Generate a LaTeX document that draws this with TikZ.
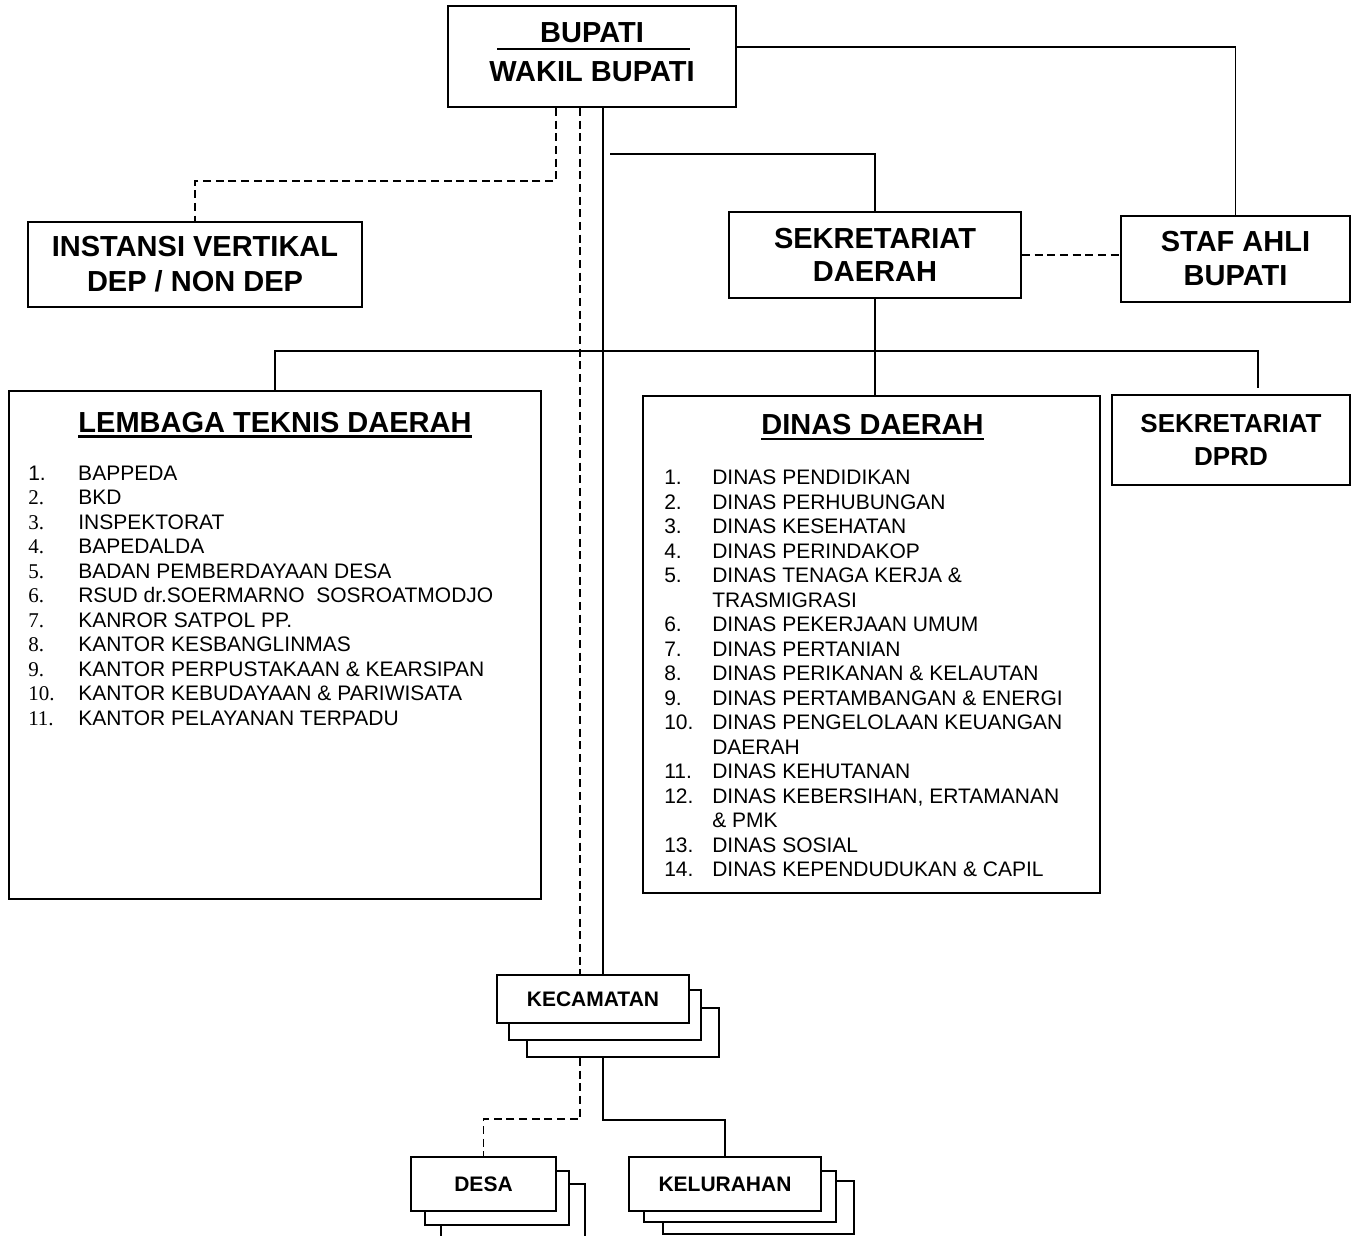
\documentclass[tikz,border=0pt]{standalone}
\usepackage{fontspec}
\setmainfont{Liberation Sans}
\newfontfamily\serifnum{Liberation Serif}
\usetikzlibrary{calc}
\newcommand\lmitem[2]{\makebox[37.5pt][l]{#1}#2}
\newcommand\dnitem[2]{\makebox[36pt][l]{#1}#2}
\begin{document}
\begin{tikzpicture}[x=0.75pt,y=-0.75pt,
  box/.style={draw, line width=1.4pt, fill=white, inner sep=0pt, align=center},
  sz/.style 2 args={minimum width=#1*0.75pt, minimum height=#2*0.75pt},
  bigfont/.style={font=\fontsize{21.75pt}{26.25pt}\selectfont\bfseries},
  midfont/.style={font=\fontsize{19.5pt}{24.75pt}\selectfont\bfseries},
  smallfont/.style={font=\fontsize{15.75pt}{18pt}\selectfont\bfseries},
  titletext/.style={inner sep=0pt, font=\fontsize{21.75pt}{26pt}\selectfont\bfseries},
  listtext/.style={inner sep=0pt, align=left, font=\fontsize{15.75pt}{18.375pt}\selectfont},
  conn/.style={line width=1.4pt},
  dashline/.style={line width=1.4pt, dash pattern=on 6pt off 3.5pt},
  uline/.style={line width=2.2pt}
]
\useasboundingbox (0,0) rectangle (1354,1236);
\clip (0,0) rectangle (1354,1236);
\fill[white] (0,0) rectangle (1354,1236);

% main boxes
\node[box, sz={288}{101}] (bup) at (592,56.5) {};
\node[inner sep=0pt, align=center, font=\fontsize{21.75pt}{29.25pt}\selectfont\bfseries] (bupt) at (592,52.5) {BUPATI\\WAKIL BUPATI};
\draw[line width=1.1pt] ($(bup.center)+(-95,-7.5)$) -- ($(bup.center)+(98,-7.5)$);

\node[box, sz={334}{85}, bigfont] (inst) at (195,264.5) {INSTANSI VERTIKAL\\DEP / NON DEP};
\node[box, sz={292}{86}, font=\fontsize{21.75pt}{24.75pt}\selectfont\bfseries] (sek) at (875,255) {SEKRETARIAT\\DAERAH};
\node[box, sz={229}{86}, font=\fontsize{21.75pt}{25.5pt}\selectfont\bfseries] (staf) at (1235.5,259) {STAF AHLI\\BUPATI};
\node[box, sz={238}{90}, midfont] (dprd) at (1231,440) {SEKRETARIAT\\DPRD};

\node[box, sz={532}{508}] (lemb) at (275,645) {};
\node[box, sz={457}{497}] (dinas) at (871.5,644.5) {};

% titles
\node[titletext, anchor=base] (lembt) at (275,432) {LEMBAGA TEKNIS DAERAH};
\draw[uline] ([yshift=-3.4pt]lembt.base west) -- ([yshift=-3.4pt]lembt.base east);
\node[titletext, anchor=base] (dinast) at (872.5,434) {DINAS DAERAH};
\draw[uline] ([yshift=-3.75pt]dinast.base west) -- ([yshift=-3.75pt]dinast.base east);

% lists
\node[listtext, anchor=north west] (lembl) at (28,465.5) {%
\lmitem{1.}{BAPPEDA}\\
\lmitem{\serifnum 2.}{BKD}\\
\lmitem{\serifnum 3.}{INSPEKTORAT}\\
\lmitem{\serifnum 4.}{BAPEDALDA}\\
\lmitem{\serifnum 5.}{BADAN PEMBERDAYAAN DESA}\\
\lmitem{\serifnum 6.}{RSUD dr.SOERMARNO\ \ SOSROATMODJO}\\
\lmitem{\serifnum 7.}{KANROR SATPOL PP.}\\
\lmitem{\serifnum 8.}{KANTOR KESBANGLINMAS}\\
\lmitem{\serifnum 9.}{KANTOR PERPUSTAKAAN \& KEARSIPAN}\\
\lmitem{\serifnum 10.}{KANTOR KEBUDAYAAN \& PARIWISATA}\\
\lmitem{\serifnum 11.}{KANTOR PELAYANAN TERPADU}};

\node[listtext, anchor=north west] (dinasl) at (664,470) {%
\dnitem{1.}{DINAS PENDIDIKAN}\\
\dnitem{2.}{DINAS PERHUBUNGAN}\\
\dnitem{3.}{DINAS KESEHATAN}\\
\dnitem{4.}{DINAS PERINDAKOP}\\
\dnitem{5.}{DINAS TENAGA KERJA \&}\\
\dnitem{}{TRASMIGRASI}\\
\dnitem{6.}{DINAS PEKERJAAN UMUM}\\
\dnitem{7.}{DINAS PERTANIAN}\\
\dnitem{8.}{DINAS PERIKANAN \& KELAUTAN}\\
\dnitem{9.}{DINAS PERTAMBANGAN \& ENERGI}\\
\dnitem{10.}{DINAS PENGELOLAAN KEUANGAN}\\
\dnitem{}{DAERAH}\\
\dnitem{11.}{DINAS KEHUTANAN}\\
\dnitem{12.}{DINAS KEBERSIHAN, ERTAMANAN}\\
\dnitem{}{\& PMK}\\
\dnitem{13.}{DINAS SOSIAL}\\
\dnitem{14.}{DINAS KEPENDUDUKAN \& CAPIL}};

% stacks
\node[box, sz={192}{49}] (kec3) at (623,1032.5) {};
\node[box, sz={192}{50}] (kec2) at (605,1015) {};
\node[box, sz={192}{48}, smallfont] (kec) at (593,999) {KECAMATAN};

\node[box, sz={144}{56}] (desa3) at (513,1212) {};
\node[box, sz={144}{54}] (desa2) at (497,1198) {};
\node[box, sz={145}{54}, smallfont] (desa) at (483.5,1184) {DESA};

\node[box, sz={191}{53}] (kel3) at (758.5,1207.5) {};
\node[box, sz={192}{51}] (kel2) at (740,1196.5) {};
\node[box, sz={192}{54}, smallfont] (kel) at (725,1184) {KELURAHAN};

% connectors
\draw[conn] ([xshift=8.25pt]bup.south) -- ([xshift=8.25pt]bup.south |- kec.north);
\draw[dashline] ([xshift=-9pt]bup.south) -- ([xshift=-9pt]bup.south |- kec.north);
\draw[dashline] ([xshift=-27pt]bup.south) -- ++(0,73) -| (inst.north);
\coordinate (sekbr) at (610,154);
\draw[conn] (sekbr) -| (sek.north);
\draw[conn] ([yshift=7.1pt]bup.east) -| (staf.north);
\draw[dashline] (sek.east) -- (sek.east -| staf.west);
\draw[conn] (sek.south) -- (sek.south |- dinas.north);
\coordinate (busL) at (275,351);
\coordinate (busR) at (1258,351);
\coordinate (dprdtop) at (1258,388);
\draw[conn] (lemb.north) -- (busL) -- (busR) -- (dprdtop);
\draw[conn] ([xshift=-15pt]kec3.south) -- ++(0,62) -| (kel.north);
\draw[dashline] ([xshift=-32.25pt]kec3.south) -- ++(0,61) -| (desa.north);
\end{tikzpicture}
\end{document}
